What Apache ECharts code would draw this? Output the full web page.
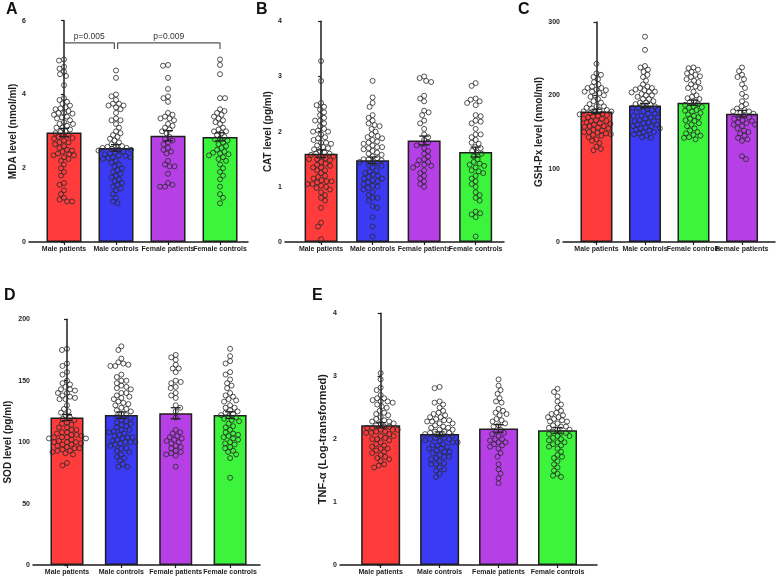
<!DOCTYPE html>
<html>
<head>
<meta charset="utf-8">
<script src="https://cdn.jsdelivr.net/npm/echarts/dist/echarts.min.js"></script>
<style>
html,body{margin:0;padding:0;background:#fff;}
#chart{width:778px;height:581px;}
</style>
</head>
<body>
<div id="chart"></div>
<script>
// ---------- Categories ----------
const categoriesMain = ['Male patients', 'Male controls', 'Female patients', 'Female controls'];
const categoriesGsh = ['Male patients', 'Male controls', 'Female controls', 'Female patients'];

// ---------- Panel A: MDA (nmol/ml) ----------
const mdaMalePatients = [4.95,4.92,4.75,4.7,4.62,4.55,4.5,4.25,3.9,3.85,3.8,3.75,3.7,3.65,3.62,3.6,3.55,3.5,3.5,3.48,3.45,3.4,3.38,3.35,3.3,3.25,3.2,3.2,3.15,3.1,3.1,3.05,3.0,2.98,2.95,2.9,2.88,2.85,2.82,2.8,2.75,2.7,2.7,2.65,2.6,2.55,2.5,2.48,2.45,2.4,2.38,2.35,2.35,2.3,2.25,2.2,2.1,2.0,1.9,1.8,1.6,1.55,1.4,1.3,1.2,1.15,1.1,1.1];
const mdaMaleControls = [4.65,4.45,4.0,3.95,3.85,3.75,3.75,3.7,3.7,3.65,3.6,3.5,3.35,3.3,3.3,3.2,3.1,3.0,2.95,2.9,2.85,2.8,2.75,2.7,2.65,2.6,2.6,2.58,2.55,2.55,2.52,2.5,2.5,2.48,2.45,2.42,2.4,2.38,2.35,2.33,2.3,2.3,2.28,2.25,2.2,2.15,2.1,2.05,2.0,1.95,1.9,1.85,1.8,1.75,1.7,1.65,1.6,1.55,1.5,1.45,1.4,1.3,1.2,1.1,1.05];
const mdaFemalePatients = [4.8,4.78,4.45,4.15,3.95,3.9,3.8,3.5,3.45,3.4,3.35,3.35,3.3,3.2,3.15,3.1,3.05,3.0,2.95,2.85,2.8,2.75,2.7,2.65,2.55,2.5,2.45,2.4,2.2,2.1,2.05,2.05,1.85,1.6,1.55,1.5,1.5];
const mdaFemaleControls = [4.95,4.8,4.55,3.9,3.9,3.6,3.55,3.5,3.45,3.4,3.35,3.3,3.25,3.2,3.1,3.05,3.0,3.0,2.95,2.9,2.85,2.8,2.78,2.75,2.7,2.65,2.6,2.55,2.5,2.45,2.42,2.4,2.38,2.35,2.3,2.25,2.2,2.1,2.0,1.9,1.8,1.7,1.5,1.3,1.2,1.05];
const mdaMeans = [2.97, 2.55, 2.88, 2.85];
const mdaSem = [0.11, 0.09, 0.14, 0.11];
const mdaComparisons = [[0, 1, 'p=0.005'], [1, 3, 'p=0.009']];

// ---------- Panel B: CAT (pg/ml) ----------
const catMalePatients = [3.28,2.92,2.52,2.48,2.45,2.4,2.35,2.3,2.2,2.2,2.1,2.05,2.0,2.0,1.95,1.9,1.85,1.8,1.8,1.78,1.75,1.7,1.68,1.65,1.6,1.6,1.58,1.55,1.55,1.52,1.5,1.5,1.45,1.4,1.38,1.35,1.3,1.25,1.2,1.15,1.1,1.1,1.08,1.05,1.05,1.0,0.95,0.9,0.85,0.8,0.75,0.62,0.35,0.28,0.05,1.62,1.48,1.42,1.18,1.12,1.02,0.98,1.72,1.88,2.02,2.15,2.25,1.3,1.35];
const catMaleControls = [2.92,2.62,2.52,2.45,2.3,2.25,2.2,2.15,2.1,2.05,2.0,1.95,1.9,1.88,1.85,1.82,1.8,1.75,1.72,1.7,1.68,1.65,1.6,1.58,1.55,1.52,1.5,1.5,1.48,1.45,1.42,1.4,1.38,1.35,1.3,1.25,1.22,1.2,1.18,1.15,1.12,1.1,1.08,1.05,1.0,0.95,0.9,0.85,0.8,0.8,0.75,0.65,0.62,0.45,0.28,0.1,1.62,1.72,1.78,1.15,1.28,1.45,2.12,1.92,1.02,0.98];
const catFemalePatients = [3.0,2.97,2.92,2.9,2.65,2.6,2.55,2.35,2.38,2.3,2.2,2.15,2.05,1.95,1.9,1.85,1.8,1.75,1.7,1.65,1.6,1.55,1.5,1.45,1.4,1.4,1.38,1.35,1.3,1.25,1.2,1.15,1.1,1.05,1.0,1.48,1.78];
const catFemaleControls = [2.88,2.83,2.6,2.58,2.55,2.52,2.48,2.3,2.28,2.2,2.15,2.05,1.95,1.9,1.85,1.8,1.78,1.72,1.7,1.65,1.6,1.55,1.5,1.45,1.42,1.4,1.35,1.3,1.25,1.2,1.15,1.1,1.05,1.0,0.9,0.85,0.8,0.75,0.55,0.52,0.5,0.45,0.1,1.62,1.38,1.28,1.95,2.18];
const catMeans = [1.60, 1.48, 1.84, 1.63];
const catSem = [0.07, 0.06, 0.08, 0.09];

// ---------- Panel C: GSH-Px (nmol/ml) ----------
const gshMalePatients = [243,230,228,225,222,218,212,210,208,207,205,205,203,200,198,195,192,190,188,185,183,182,180,180,178,177,175,173,172,170,168,166,165,163,162,160,158,157,155,153,152,150,150,148,147,145,143,140,138,135,130,127,125,185,176,171,168,161,156,149,215,210,200,178,174,165,158,146];
const gshMaleControls = [280,262,240,238,235,232,228,225,220,215,212,210,208,207,205,204,202,200,198,195,192,190,188,187,185,183,182,180,178,175,172,170,168,166,165,163,162,160,158,156,155,153,152,150,148,147,145,143,142,200,185,180,175,165,158,150,210,195,190,170,160,155,172,177,183,205];
const gshFemaleControls = [238,237,235,232,230,228,226,222,220,218,215,212,210,205,200,198,195,192,190,188,187,185,183,180,178,176,174,172,170,168,166,165,162,160,158,155,152,150,148,146,145,143,142,140,196,184,179,210,225];
const gshFemalePatients = [238,233,228,225,222,215,210,202,198,192,188,185,182,180,178,176,175,172,170,168,166,165,163,162,160,158,155,152,150,148,145,142,140,138,117,113,160,170,178];
const gshMeans = [178, 186, 190, 175];
const gshSem = [3, 3, 3.5, 4.5];

// ---------- Panel D: SOD (pg/ml) ----------
const sodMalePatients = [176,175,164,162,157,155,150,148,147,145,143,143,142,140,138,136,135,135,130,127,125,122,120,118,116,114,112,110,108,107,106,105,104,104,103,102,101,100,100,99,98,97,96,95,94,93,92,91,90,83,81,103,106,108,110,112,95,98,93,140,137,104,100,115,119,124];
const sodMaleControls = [178,175,168,165,164,163,162,162,155,153,150,148,146,145,143,140,138,137,135,133,132,130,128,126,125,123,122,120,118,117,115,113,112,110,110,108,106,105,104,103,102,101,100,100,99,98,97,95,93,90,87,85,82,80,80,136,131,127,121,116,114,109,107,104,100,95,92,88,140,144,150];
const sodFemalePatients = [171,169,167,163,160,160,157,150,149,148,145,144,140,138,136,130,128,125,120,110,108,107,105,104,103,102,101,100,99,97,96,95,93,92,91,90,89,80];
const sodFemaleControls = [176,170,166,164,157,155,151,148,146,144,140,138,137,135,134,133,130,128,126,125,124,123,122,121,120,119,117,115,113,112,110,108,107,106,105,104,103,102,100,99,98,96,95,93,92,90,87,71,128,118];
const sodMeans = [120, 122, 123.5, 122];
const sodSem = [2.5, 2.6, 4.5, 2.7];

// ---------- Panel E: TNF-α (log-transformed) ----------
const tnfMalePatients = [3.05,2.95,2.82,2.78,2.7,2.65,2.62,2.6,2.6,2.58,2.55,2.5,2.45,2.4,2.38,2.35,2.3,2.28,2.25,2.22,2.2,2.18,2.15,2.15,2.12,2.1,2.1,2.08,2.05,2.02,2.0,1.98,1.95,1.9,1.88,1.85,1.82,1.8,1.78,1.75,1.72,1.7,1.65,1.6,1.58,1.55,2.15,2.12,2.18,2.28,2.52,2.42,2.05,1.92,1.68,2.65,2.32,2.2,2.25,1.85,2.0];
const tnfMaleControls = [2.83,2.81,2.6,2.58,2.55,2.5,2.45,2.4,2.38,2.35,2.32,2.3,2.3,2.28,2.25,2.22,2.2,2.18,2.15,2.12,2.1,2.08,2.05,2.02,2.0,1.98,1.95,1.92,1.9,1.88,1.85,1.82,1.8,1.78,1.75,1.72,1.7,1.65,1.62,1.6,1.55,1.52,1.5,1.45,1.4,2.28,2.25,2.15,2.1,2.05,2.0,1.95,1.9,1.85,1.8,1.72,1.68,2.35,2.42,2.18,2.12,2.02,1.97,1.6];
const tnfFemalePatients = [2.95,2.85,2.78,2.72,2.65,2.6,2.58,2.48,2.45,2.42,2.4,2.38,2.32,2.3,2.25,2.22,2.2,2.15,2.1,2.05,2.0,2.0,1.98,1.95,1.92,1.9,1.88,1.85,1.78,1.72,1.6,1.52,1.45,1.38,1.3,2.12,2.08,1.95,2.28];
const tnfFemaleControls = [2.8,2.75,2.68,2.6,2.55,2.5,2.45,2.4,2.38,2.35,2.32,2.3,2.28,2.25,2.22,2.2,2.18,2.15,2.12,2.1,2.08,2.05,2.02,2.0,1.98,1.95,1.92,1.9,1.85,1.8,1.75,1.7,1.65,1.6,1.55,1.5,1.45,1.42,1.4,2.28,2.15,2.1,1.95,1.88,2.35,2.42,2.2,2.05,1.72];
const tnfMeans = [2.22, 2.08, 2.17, 2.14];
const tnfSem = [0.04, 0.035, 0.06, 0.045];

// ---------- Styling ----------
const RED = '#FF3B3B', BLUE = '#3B3BF5', PURPLE = '#B63FE6', GREEN = '#3CF43C';
const INK = '#1e1e1e';
const FONT = '"Liberation Sans", Arial, sans-serif';

const panels = [
  {letter:'A', cats:categoriesMain, groups:[mdaMalePatients, mdaMaleControls, mdaFemalePatients, mdaFemaleControls],
   means:mdaMeans, sem:mdaSem, colors:[RED, BLUE, PURPLE, GREEN], yMax:6, yInt:2, name:'MDA level (nmol/ml)',
   left:29, top:20.7, width:219, height:221.3, xMin:-0.673, xMax:3.538, barW:35, nameGap:10, nameSize:10,
   letterPos:[6, 2], comps:mdaComparisons},
  {letter:'B', cats:categoriesMain, groups:[catMalePatients, catMaleControls, catFemalePatients, catFemaleControls],
   means:catMeans, sem:catSem, colors:[RED, BLUE, PURPLE, GREEN], yMax:4, yInt:1, name:'CAT level (pg/ml)',
   left:285, top:21.3, width:219, height:220.7, xMin:-0.70, xMax:3.55, barW:33, nameGap:12, nameSize:10,
   letterPos:[256, 2]},
  {letter:'C', cats:categoriesGsh, groups:[gshMalePatients, gshMaleControls, gshFemaleControls, gshFemalePatients],
   means:gshMeans, sem:gshSem, colors:[RED, BLUE, GREEN, PURPLE], yMax:300, yInt:100, name:'GSH-Px level (nmol/ml)',
   left:563, top:22, width:214, height:220, xMin:-0.69, xMax:3.68, barW:32, nameGap:15, nameSize:10,
   letterPos:[518, 2]},
  {letter:'D', cats:categoriesMain, groups:[sodMalePatients, sodMaleControls, sodFemalePatients, sodFemaleControls],
   means:sodMeans, sem:sodSem, colors:[RED, BLUE, PURPLE, GREEN], yMax:200, yInt:50, name:'SOD level (pg/ml)',
   left:33, top:319.3, width:227, height:245.7, xMin:-0.625, xMax:3.55, barW:33, nameGap:20, nameSize:10,
   letterPos:[4, 288]},
  {letter:'E', cats:categoriesMain, groups:[tnfMalePatients, tnfMaleControls, tnfFemalePatients, tnfFemaleControls],
   means:tnfMeans, sem:tnfSem, colors:[RED, BLUE, PURPLE, GREEN], yMax:4, yInt:1, name:'TNF-α (Log-transformed)',
   left:340, top:313.3, width:257, height:251.7, xMin:-0.69, xMax:3.67, barW:39, nameGap:12, nameSize:11,
   letterPos:[312, 288]}
];

// Beeswarm layout (pixel-space collision avoidance)
function swarm(values, center, pxX, pxY, d) {
  const placed = [];
  const order = values.map((v, i) => i).sort((a, b) => values[b] - values[a]);
  const out = new Array(values.length);
  let flip = 1;
  for (const i of order) {
    const y = values[i] * pxY;
    let best = 0;
    for (let k = 0; k < 400; k++) {
      const cands = k === 0 ? [0] : [flip * k * 0.5, -flip * k * 0.5];
      let found = null;
      for (const c of cands) {
        if (placed.every(p => (p.x - c) * (p.x - c) + (p.y - y) * (p.y - y) >= d * d)) { found = c; break; }
      }
      if (found !== null) { best = found; break; }
    }
    flip = -flip;
    placed.push({x: best, y: y});
    out[i] = [center + best / pxX, values[i]];
  }
  return out;
}

const grid = [], xAxis = [], yAxis = [], series = [], title = [];
const axisTextStyle = {fontFamily: FONT, fontWeight: 'bold', color: INK};

panels.forEach((p, gi) => {
  grid.push({left: p.left, top: p.top, width: p.width, height: p.height});
  const catIdx = [0, 1, 2, 3];
  xAxis.push({
    type: 'value', gridIndex: gi, min: p.xMin, max: p.xMax,
    splitLine: {show: false},
    axisLine: {show: true, onZero: false, lineStyle: {color: INK, width: 1.5}},
    axisTick: {show: true, length: 3, customValues: catIdx, lineStyle: {color: INK, width: 1.2}},
    // axis ends carry empty labels so adjacent category labels are never dropped
    axisLabel: {show: true, customValues: [p.xMin].concat(catIdx, [p.xMax]),
      formatter: v => (Number.isInteger(v) ? p.cats[v] : ''),
      hideOverlap: false, fontSize: 7, margin: 4, ...axisTextStyle}
  });
  yAxis.push({
    type: 'value', gridIndex: gi, min: 0, max: p.yMax, interval: p.yInt,
    splitLine: {show: false},
    axisLine: {show: true, lineStyle: {color: INK, width: 1.5}},
    axisTick: {show: true, length: 3, lineStyle: {color: INK, width: 1.2}},
    axisLabel: {fontSize: 7, margin: 3, ...axisTextStyle},
    name: p.name, nameLocation: 'middle', nameRotate: 90, nameGap: p.nameGap,
    nameTextStyle: {fontSize: p.nameSize, fontFamily: FONT, fontWeight: 'bold', color: INK}
  });
  title.push({text: p.letter, left: p.letterPos[0], top: p.letterPos[1], padding: 0,
    textStyle: {fontSize: 16, fontWeight: 'bold', fontFamily: FONT, color: '#111'}});

  // bars
  series.push({
    type: 'bar', xAxisIndex: gi, yAxisIndex: gi, barWidth: p.barW,
    data: p.means.map((m, i) => ({value: [i, m], itemStyle: {color: p.colors[i]}})),
    itemStyle: {borderColor: INK, borderWidth: 1.5},
    silent: true, z: 2
  });

  // error bars (mean ± SEM)
  series.push({
    type: 'custom', xAxisIndex: gi, yAxisIndex: gi, z: 4, silent: true,
    data: p.means.map((m, i) => [i, m, p.sem[i]]),
    renderItem: (params, api) => {
      const x = api.value(0), m = api.value(1), s = api.value(2);
      const top = api.coord([x, m + s]), bot = api.coord([x, m - s]);
      const hw = 5;
      const st = {stroke: INK, lineWidth: 1.3, fill: null};
      return {type: 'group', children: [
        {type: 'line', shape: {x1: top[0], y1: top[1], x2: bot[0], y2: bot[1]}, style: st},
        {type: 'line', shape: {x1: top[0] - hw, y1: top[1], x2: top[0] + hw, y2: top[1]}, style: st},
        {type: 'line', shape: {x1: bot[0] - hw, y1: bot[1], x2: bot[0] + hw, y2: bot[1]}, style: st}
      ]};
    }
  });

  // individual points
  const pxX = p.width / (p.xMax - p.xMin), pxY = p.height / p.yMax;
  p.groups.forEach((vals, gi2) => {
    series.push({
      type: 'scatter', xAxisIndex: gi, yAxisIndex: gi, z: 5, silent: true,
      symbol: 'circle', symbolSize: 5,
      itemStyle: {color: 'rgba(0,0,0,0)', borderColor: '#2a2a2a', borderWidth: 1},
      data: swarm(vals, gi2, pxX, pxY, 4.7)
    });
  });

  // significance brackets
  if (p.comps) {
    const level = 5.4, drop = 0.17;
    series.push({
      type: 'custom', xAxisIndex: gi, yAxisIndex: gi, z: 6, silent: true,
      data: p.comps.map(c => [c[0], c[1], c[2]]),
      renderItem: (params, api) => {
        const a = api.value(0), b = api.value(1);
        const label = p.comps[params.dataIndex][2];
        const pa = api.coord([a, level]), pb = api.coord([b, level]);
        const da = api.coord([a, level - drop]);
        const inset = 1.6;
        const x1 = pa[0] + (a === 1 ? inset : 0), x2 = pb[0] - (b === 1 ? inset : 0);
        const st = {stroke: '#555', lineWidth: 1.2, fill: null};
        return {type: 'group', children: [
          {type: 'line', shape: {x1: x1, y1: pa[1], x2: x2, y2: pb[1]}, style: st},
          {type: 'line', shape: {x1: x1, y1: pa[1], x2: x1, y2: da[1]}, style: st},
          {type: 'line', shape: {x1: x2, y1: pb[1], x2: x2, y2: da[1]}, style: st},
          {type: 'text', x: (x1 + x2) / 2, y: pa[1] - 2, style: {text: label, fontSize: 8.5,
            fontFamily: FONT, fill: '#333', align: 'center', verticalAlign: 'bottom'}}
        ]};
      }
    });
  }
});

const chart = echarts.init(document.getElementById('chart'), null, {renderer: 'canvas'});
chart.setOption({
  backgroundColor: '#fff',
  animation: false,
  title: title,
  grid: grid,
  xAxis: xAxis,
  yAxis: yAxis,
  series: series
});
</script>
</body>
</html>
